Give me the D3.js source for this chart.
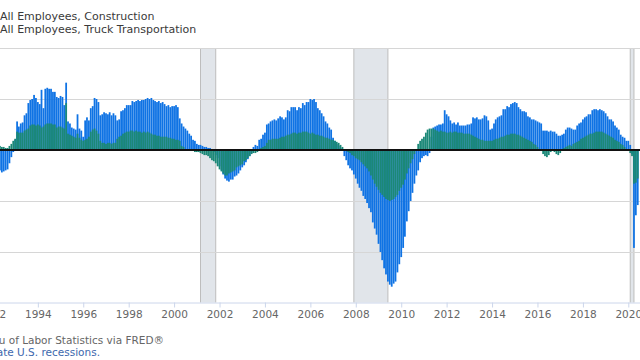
<!DOCTYPE html>
<html><head><meta charset="utf-8">
<script src="https://cdn.jsdelivr.net/npm/d3@7"></script>
<style>
body{margin:0;background:#fff;}
svg{display:block;font-family:"DejaVu Sans",Verdana,sans-serif;}
</style>
</head><body>
<svg id="chart" width="640" height="360"></svg>
<script>
// ---- data (percent change from year ago, monthly) ----
const seriesNames = ["All Employees, Construction", "All Employees, Truck Transportation"];
const firstMonth = "1992-05-01";
const construction = [
  -2.0,-2.2,-2.1,-2.0,-1.9,-1.3,-0.7,-0.2,               // 1992 May-Dec
  1.0,2.8,2.3,2.6,2.7,3.4,3.6,4.6,4.9,5.0,5.4,5.1,        // 1993
  4.7,4.5,5.9,4.1,6.0,6.1,6.0,6.0,5.7,5.7,5.2,5.1,        // 1994
  5.3,5.2,4.4,6.6,2.8,2.6,2.2,2.1,2.0,3.5,2.1,1.9,        // 1995
  1.3,2.9,3.2,2.9,4.1,4.3,5.1,5.0,4.7,3.4,3.5,3.7,        // 1996
  3.6,3.5,3.7,3.4,3.6,3.4,2.9,3.0,3.8,3.9,4.1,4.4,        // 1997
  4.4,4.4,4.8,4.7,4.8,4.9,4.8,4.9,4.9,5.0,5.1,5.0,        // 1998
  5.1,4.9,4.8,4.7,4.8,4.6,4.7,4.5,4.3,4.4,4.2,4.3,        // 1999
  4.3,4.4,4.2,3.1,2.6,2.3,2.1,1.9,1.6,1.4,1.0,0.9,        // 2000
  0.6,0.5,0.5,0.4,0.3,0.3,0.2,0.2,0.1,-0.2,-0.5,-0.8,     // 2001
  -1.6,-2.0,-2.4,-2.8,-3.0,-3.1,-2.9,-2.9,-2.6,-2.5,-2.3,-2.0, // 2002
  -1.7,-1.5,-1.2,-0.9,-0.6,-0.3,0.3,0.5,0.4,1.0,1.1,1.5,  // 2003
  1.7,2.5,2.6,2.8,2.9,3.0,2.9,3.1,3.3,3.2,3.0,3.2,        // 2004
  3.9,3.8,4.2,4.2,4.2,3.9,4.2,4.1,4.6,4.4,4.7,4.7,        // 2005
  5.0,4.9,5.0,4.7,4.1,3.9,3.6,3.3,2.8,2.6,2.2,2.0,        // 2006
  1.2,0.9,0.6,0.4,0.2,-0.1,-0.6,-1.0,-1.5,-1.8,-2.0,-2.4, // 2007
  -2.8,-3.3,-3.7,-4.0,-4.5,-4.8,-5.2,-5.7,-6.1,-7.1,-7.7,-8.3, // 2008
  -9.2,-10.0,-10.8,-11.6,-12.2,-12.9,-13.2,-13.4,-13.1,-12.9,-12.0,-11.2, // 2009
  -10.5,-9.6,-8.5,-7.0,-6.0,-5.0,-4.2,-3.3,-2.5,-2.0,-1.2,-0.8, // 2010
  -0.6,-0.5,-0.6,-0.3,1.3,2.2,2.3,2.4,2.5,2.5,2.6,3.9,    // 2011
  3.5,3.3,2.9,2.6,2.7,2.5,2.7,2.4,2.4,2.4,2.4,2.5,        // 2012
  2.5,2.6,3.2,3.1,3.2,3.0,3.0,3.1,3.4,3.3,2.9,2.0,        // 2013
  2.1,2.6,3.0,3.2,3.3,3.4,4.0,4.0,4.3,4.2,4.5,4.6,        // 2014
  4.7,4.6,4.2,4.0,3.8,3.8,3.7,3.3,3.2,3.0,3.0,2.9,        // 2015
  2.8,2.7,2.6,1.9,1.9,1.9,1.8,1.9,1.8,1.8,1.6,1.4,        // 2016
  1.4,1.5,1.6,2.0,2.2,2.2,2.1,2.0,2.0,2.4,2.6,2.7,        // 2017
  3.0,3.2,3.3,3.5,3.5,3.9,4.0,4.0,3.9,4.0,3.9,3.8,        // 2018
  3.6,3.3,3.0,3.0,2.8,2.4,2.2,2.0,1.5,1.3,1.2,0.9,        // 2019
  0.9,0.5,-0.4,-9.6,-6.4,-5.4                             // 2020 Jan-Jun
];
const truck = [
  0.4,0.3,0.3,0.2,0.2,0.4,0.6,0.9,                        // 1992 May-Dec
  1.1,1.8,1.7,1.7,1.7,1.9,2.0,2.1,2.4,2.5,2.5,2.4,        // 1993
  2.5,2.4,2.2,2.3,2.5,2.6,2.6,2.6,2.5,2.5,2.2,2.3,        // 1994
  2.3,2.2,2.1,4.6,1.6,1.5,1.4,1.3,1.2,1.6,1.2,1.0,        // 1995
  0.9,1.0,1.1,1.3,1.8,2.0,2.1,1.9,1.6,0.9,0.7,0.7,        // 1996
  0.6,0.7,0.7,0.6,0.7,0.7,1.1,1.3,1.4,1.6,1.7,1.8,        // 1997
  1.8,1.9,1.9,1.8,1.9,1.8,1.8,1.7,1.8,1.7,1.8,1.7,        // 1998
  1.6,1.5,1.5,1.4,1.4,1.3,1.3,1.3,1.3,1.2,1.2,1.1,        // 1999
  1.1,1.0,1.0,0.9,0.4,0.3,0.1,0.0,0.0,-0.1,-0.1,-0.2,     // 2000
  -0.2,-0.2,-0.3,-0.4,-0.5,-0.5,-0.6,-0.8,-1.0,-1.1,-1.3,-1.6, // 2001
  -1.9,-2.1,-2.3,-2.5,-2.5,-2.3,-2.2,-2.1,-2.0,-1.7,-1.6,-1.5, // 2002
  -1.4,-1.1,-1.0,-0.8,-0.6,-0.4,-0.3,-0.3,-0.2,0.1,0.2,0.3, // 2003
  0.4,0.7,1.0,1.0,1.1,1.1,1.1,1.1,1.2,1.3,1.3,1.4,        // 2004
  1.5,1.5,1.6,1.7,1.7,1.6,1.7,1.7,1.8,1.8,1.8,1.7,        // 2005
  1.6,1.7,1.6,1.5,1.5,1.4,1.4,1.3,1.2,1.2,1.1,1.0,        // 2006
  1.0,0.9,0.8,0.7,0.5,0.3,0.1,0.0,-0.2,-0.3,-0.5,-0.6,    // 2007
  -0.8,-0.9,-1.0,-1.2,-1.4,-1.6,-1.8,-2.1,-2.5,-2.9,-3.3,-3.6, // 2008
  -3.9,-4.2,-4.4,-4.6,-4.8,-4.9,-5.0,-4.9,-4.8,-4.6,-4.4,-4.0, // 2009
  -3.7,-3.4,-2.9,-2.3,-1.8,-1.3,-0.9,-0.4,0.1,0.6,0.9,1.1, // 2010
  1.3,1.7,2.0,2.1,2.1,2.1,2.0,1.9,1.8,1.9,1.8,1.8,        // 2011
  1.7,1.7,1.8,1.7,1.8,1.8,1.7,1.7,1.7,1.6,1.6,1.6,        // 2012
  1.6,1.5,1.4,1.3,1.2,1.1,1.0,1.0,0.9,0.9,0.9,0.9,        // 2013
  0.9,1.0,1.1,1.1,1.2,1.3,1.3,1.4,1.5,1.5,1.6,1.6,        // 2014
  1.6,1.5,1.5,1.4,1.3,1.2,1.1,1.0,0.9,0.8,0.6,0.5,        // 2015
  0.3,0.1,-0.1,-0.4,-0.6,-0.7,-0.5,-0.2,-0.1,-0.2,-0.4,-0.5, // 2016
  -0.3,0.0,0.2,0.3,0.4,0.5,0.4,0.6,0.7,0.8,0.9,1.1,       // 2017
  1.2,1.3,1.4,1.5,1.6,1.6,1.7,1.8,1.8,1.8,1.8,1.7,        // 2018
  1.6,1.5,1.4,1.3,1.2,1.0,0.9,0.8,0.6,0.5,0.3,0.1,        // 2019
  -0.1,-0.3,-0.6,-3.3,-3.2,-2.8                           // 2020 Jan-Jun
];
const recessions = [["2001-03-01","2001-11-01"],["2007-12-01","2009-06-01"],["2020-02-01","2020-04-01"]];
const yTicks = [-15,-10,-5,0,5,10];
const tickYears = [1992,1994,1996,1998,2000,2002,2004,2006,2008,2010,2012,2014,2016,2018,2020];
const sourceText = "Source: U.S. Bureau of Labor Statistics via FRED®";
const noteText = "Shaded areas indicate U.S. recessions.";

// ---- drawing ----
const parse = d3.timeParse("%Y-%m-%d");
const start = parse(firstMonth);
const n = Math.min(construction.length, truck.length);
const months = d3.range(n).map(i => d3.timeMonth.offset(start, i));

const svg = d3.select("#chart");
const plotTop = 48, plotBottom = 302.5, plotLeft = -60, plotRight = 660;

const x = d3.scaleTime()
  .domain([new Date(1992,0,1), new Date(2020,0,1)])
  .range([-7.6, 628.3]);
const y = d3.scaleLinear().domain([-15, 10]).range([303, 48]);
const step = x(new Date(2005,1,1)) - x(new Date(2005,0,1));
const bw = step * 0.92;

// recession shading
const rec = svg.append("g");
recessions.forEach(([a,b]) => {
  const x0 = x(parse(a)), x1 = x(parse(b));
  rec.append("rect").attr("x", x0).attr("y", plotTop).attr("width", x1 - x0)
    .attr("height", plotBottom - plotTop).attr("fill", "#e1e5ea");
  [x0, x1].forEach(xx => rec.append("line").attr("x1", xx).attr("x2", xx)
    .attr("y1", plotTop).attr("y2", plotBottom).attr("stroke", "#bdbdbd").attr("stroke-width", 1));
});

// gridlines
svg.append("g").selectAll("line").data(yTicks.filter(v => v !== 0 && v !== -15)).join("line")
  .attr("x1", plotLeft).attr("x2", plotRight)
  .attr("y1", d => Math.round(y(d)) + 0.5).attr("y2", d => Math.round(y(d)) + 0.5)
  .attr("stroke", "#d6d6d6").attr("stroke-width", 1);

// bars
function drawSeries(vals, color) {
  svg.append("g").selectAll("rect").data(vals.slice(0, n)).join("rect")
    .attr("x", (d, i) => x(months[i]) - bw / 2)
    .attr("width", bw)
    .attr("y", d => y(Math.max(0, d)))
    .attr("height", d => Math.abs(y(d) - y(0)))
    .attr("fill", color);
}
drawSeries(construction, "#0f73e4");
drawSeries(truck, "#1b8877");

// zero line
svg.append("line").attr("x1", plotLeft).attr("x2", plotRight)
  .attr("y1", y(0)).attr("y2", y(0)).attr("stroke", "#111").attr("stroke-width", 2);

// x axis
const xAxis = d3.axisBottom(x)
  .tickValues(tickYears.map(yr => new Date(yr, 0, 1)))
  .tickFormat(d3.timeFormat("%Y"))
  .tickSize(5).tickSizeOuter(0);
const gx = svg.append("g").attr("transform", `translate(0,${plotBottom})`).call(xAxis);
gx.select(".domain").attr("d", `M${plotLeft},0.5H${plotRight}`).attr("stroke", "#ccd6eb");
gx.selectAll(".tick line").attr("stroke", "#ccd6eb");
gx.selectAll(".tick text").attr("fill", "#666").attr("font-size", "10.5px")
  .attr("font-family", '"DejaVu Sans",Verdana,sans-serif');

// legend / title texts
svg.append("text").attr("x", 0).attr("y", 19.5).attr("fill", "#3a3a3a")
  .attr("font-size", "11px").text(seriesNames[0]);
svg.append("text").attr("x", 0).attr("y", 32.5).attr("fill", "#3a3a3a")
  .attr("font-size", "11px").text(seriesNames[1]);

// footer
svg.append("text").attr("x", 164).attr("y", 344).attr("text-anchor", "end")
  .attr("fill", "#666").attr("font-size", "10.5px").text(sourceText);
svg.append("text").attr("x", 100).attr("y", 356).attr("text-anchor", "end")
  .attr("fill", "#3d68ad").attr("font-size", "10.5px").text(noteText);
</script>
</body></html>
